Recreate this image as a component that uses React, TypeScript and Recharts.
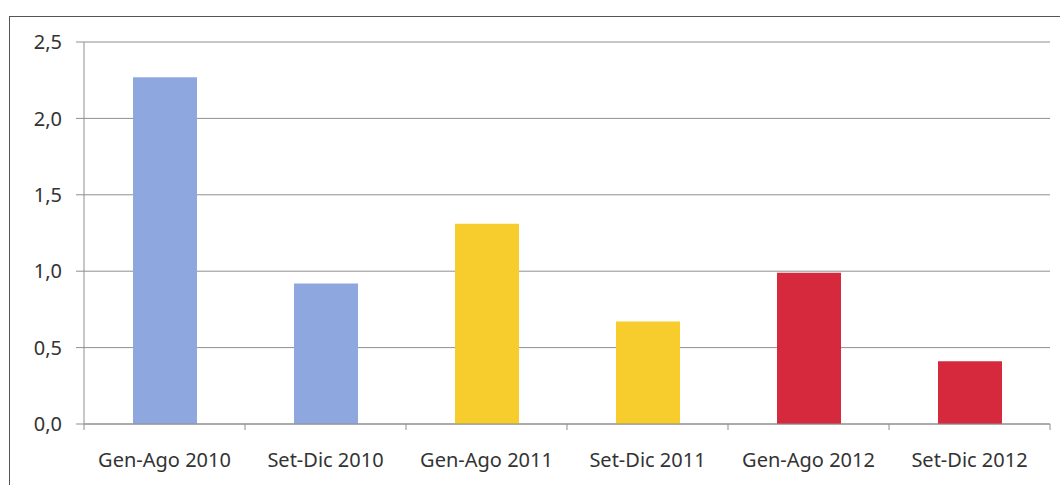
import { Bar, BarChart, CartesianGrid, Cell, XAxis, YAxis } from "recharts";

const CATEGORIES = [
  "Gen-Ago 2010",
  "Set-Dic 2010",
  "Gen-Ago 2011",
  "Set-Dic 2011",
  "Gen-Ago 2012",
  "Set-Dic 2012",
];
const VALUES = [2.27, 0.92, 1.31, 0.67, 0.99, 0.41];
const Y_TICKS = [0, 0.5, 1, 1.5, 2, 2.5];
const BAR_COLORS = ["#8ea8df", "#8ea8df", "#f6cd2c", "#f6cd2c", "#d6293d", "#d6293d"];

const data = CATEGORIES.map((name, i) => ({ name, value: VALUES[i] }));

const FONT = "'Noto Sans', sans-serif";
const GRID = "#8f8f8f";

function XTick(props: any) {
  const { x, y, payload, index, visibleTicksCount } = props;
  const off = payload?.offset ?? 0;
  const last = index === visibleTicksCount - 1;
  return (
    <g>
      <line x1={x - off} x2={x - off} y1={y} y2={y + 6} stroke={GRID} />
      {last && <line x1={x + off} x2={x + off} y1={y} y2={y + 6} stroke={GRID} />}
      <text x={x} y={y + 43} textAnchor="middle" fill="#333" fontSize={20} fontFamily={FONT}>
        {payload.value}
      </text>
    </g>
  );
}

export default function App() {
  return (
    <div style={{ position: "absolute", left: 0, top: 0, width: 1060, height: 485, background: "#fff", overflow: "hidden" }}>
      <div
        style={{
          position: "absolute",
          left: 9,
          top: 16,
          width: 1100,
          height: 500,
          borderLeft: "1px solid #555",
          borderTop: "1px solid #555",
        }}
      />
      <div style={{ position: "absolute", left: 0, top: 0 }}>
        <BarChart
          width={1060}
          height={485}
          data={data}
          margin={{ top: 42, right: 10, left: 0, bottom: 0 }}
          barSize={64}
        >
          <CartesianGrid vertical={false} stroke={GRID} />
          <XAxis
            dataKey="name"
            height={61}
            tickSize={0}
            tickMargin={0}
            axisLine={{ stroke: GRID }}
            tick={<XTick />}
            interval={0}
          />
          <YAxis
            width={84}
            domain={[0, 2.5]}
            ticks={Y_TICKS}
            tickSize={8}
            tickMargin={14}
            axisLine={{ stroke: GRID }}
            tickLine={{ stroke: GRID }}
            tick={{ fill: "#333", fontSize: 20, fontFamily: FONT }}
            tickFormatter={(v: number) => v.toFixed(1).replace(".", ",")}
          />
          <Bar dataKey="value" isAnimationActive={false}>
            {data.map((d, i) => (
              <Cell key={d.name} fill={BAR_COLORS[i]} />
            ))}
          </Bar>
        </BarChart>
      </div>
    </div>
  );
}
